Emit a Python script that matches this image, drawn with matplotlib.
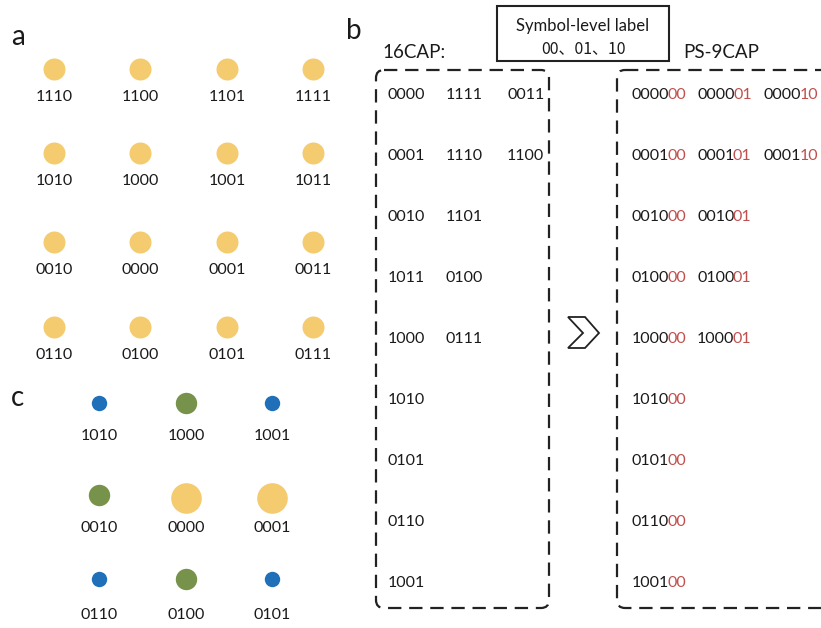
import matplotlib.pyplot as plt
from matplotlib.patches import FancyBboxPatch, Polygon, Rectangle

plt.rcParams['font.family'] = ['Lato', 'DejaVu Sans']

# panel a: 16CAP constellation labels, top row first
labels_a = [['1110', '1100', '1101', '1111'],
            ['1010', '1000', '1001', '1011'],
            ['0010', '0000', '0001', '0011'],
            ['0110', '0100', '0101', '0111']]

# panel c: PS-9CAP constellation labels and point classes
labels_c = [['1010', '1000', '1001'],
            ['0010', '0000', '0001'],
            ['0110', '0100', '0101']]
class_c = [['outer', 'mid', 'outer'],
           ['mid', 'inner', 'inner'],
           ['outer', 'mid', 'outer']]

# panel b: 16CAP groups and PS-9CAP labels (prefix, symbol-level suffix)
cap16_rows = [['0000', '1111', '0011'],
              ['0001', '1110', '1100'],
              ['0010', '1101'],
              ['1011', '0100'],
              ['1000', '0111'],
              ['1010'], ['0101'], ['0110'], ['1001']]
ps9_rows = [[('0000', '00'), ('0000', '01'), ('0000', '10')],
            [('0001', '00'), ('0001', '01'), ('0001', '10')],
            [('0010', '00'), ('0010', '01')],
            [('0100', '00'), ('0100', '01')],
            [('1000', '00'), ('1000', '01')],
            [('1010', '00')], [('0101', '00')], [('0110', '00')], [('1001', '00')]]
symbol_labels = ['00', '01', '10']

W, H = 821, 628
fig = plt.figure(figsize=(W / 100, H / 100), dpi=100)
ax = fig.add_axes([0, 0, 1, 1])
ax.set_xlim(0, W)
ax.set_ylim(H, 0)
ax.axis('off')

yellow = '#F4CB6E'
green = '#77924A'
blue = '#1F70B8'
red = '#C0504D'
ink = '#1a1a1a'
fs = 11.5


def size(r):
    # marker area from radius in pixels
    return (2 * r * 0.72) ** 2


# ---- panel a
ax.text(11, 37, 'a', fontsize=20, color=ink, va='center', ha='left')
xa = [54, 140, 227, 313]
ya = [69, 153, 242, 327]
for i, row in enumerate(labels_a):
    for j, lab in enumerate(row):
        ax.scatter(xa[j], ya[i], s=size(11), color=yellow, lw=0)
        ax.text(xa[j], ya[i] + 28, lab, fontsize=fs, color=ink,
                ha='center', va='center')

# ---- panel c
ax.text(11, 398, 'c', fontsize=20, color=ink, va='center', ha='left')
xc = [99, 186, 272]
yc = [403, 495, 579]
ylab_c = [436, 528, 615]
styles = {'outer': (blue, 7.7), 'mid': (green, 10.7), 'inner': (yellow, 15.3)}
for i, row in enumerate(labels_c):
    for j, lab in enumerate(row):
        col, r = styles[class_c[i][j]]
        y = yc[i] + (3 if class_c[i][j] == 'inner' else 0)
        ax.scatter(xc[j], y, s=size(r), color=col, lw=0)
        ax.text(xc[j], ylab_c[i], lab, fontsize=fs, color=ink,
                ha='center', va='center')

# ---- panel b
ax.text(346, 31, 'b', fontsize=20, color=ink, va='center', ha='left')
ax.text(382, 53, '16CAP:', fontsize=13.5, color=ink, va='center', ha='left')
ax.text(683, 53, 'PS-9CAP', fontsize=13.5, color=ink, va='center', ha='left')

ax.add_patch(Rectangle((497, 6), 172, 55, fill=False, ec='#222222', lw=1.5))
ax.text(583, 26, 'Symbol-level label', fontsize=12, color=ink,
        ha='center', va='center')
ax.text(583, 49, '、'.join(symbol_labels), fontsize=11.5, color=ink,
        ha='center', va='center',
        family=['Noto Sans CJK SC', 'DejaVu Sans'])

dash = dict(fill=False, ec='#222222', lw=1.6, ls=(0, (6, 3.5)),
            boxstyle='round,pad=0,rounding_size=8')
ax.add_patch(FancyBboxPatch((376, 70), 173, 538, **dash))
ax.add_patch(FancyBboxPatch((617, 70), 212, 538, **dash))

row_y = [95 + 61 * k for k in range(9)]
x16 = [388, 446, 507]
for k, row in enumerate(cap16_rows):
    for j, lab in enumerate(row):
        ax.text(x16[j], row_y[k], lab, fontsize=fs, color=ink,
                ha='left', va='center')

# black prefix, red suffix glued to its right edge
xps = [632, 697, 764]
for k, row in enumerate(ps9_rows):
    for j, (pre, suf) in enumerate(row):
        t = ax.text(xps[j], row_y[k], pre, fontsize=fs, color=ink,
                    ha='left', va='center')
        ax.annotate(suf, xy=(1, 0.5), xycoords=t, xytext=(-1.5, 0),
                    textcoords='offset pixels', fontsize=fs, color=red,
                    ha='left', va='center')

# chevron between the two groups
ax.add_patch(Polygon([(568, 317), (585, 317), (599, 333), (585, 348),
                      (568, 348), (583, 333)], closed=True, fill=False,
                     ec='#222222', lw=1.3))

fig.savefig('out.png', dpi=100, facecolor='white')
